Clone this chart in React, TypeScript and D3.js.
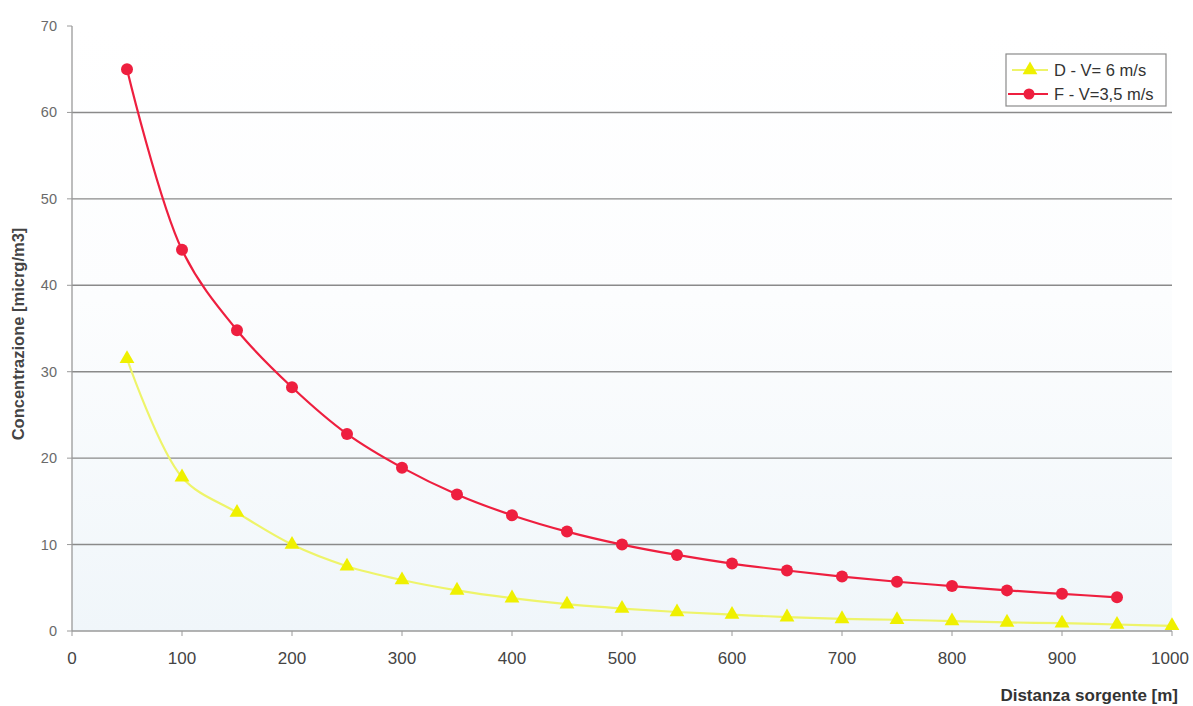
import React from "react";
import * as d3 from "d3";

const distances = [50, 100, 150, 200, 250, 300, 350, 400, 450, 500, 550, 600, 650, 700, 750, 800, 850, 900, 950, 1000];
const seriesD = [31.5, 17.8, 13.7, 10.0, 7.5, 5.9, 4.7, 3.8, 3.1, 2.6, 2.2, 1.9, 1.6, 1.4, 1.3, 1.15, 1.0, 0.9, 0.75, 0.6];
const seriesF = [65, 44.1, 34.8, 28.2, 22.8, 18.9, 15.8, 13.4, 11.5, 10.0, 8.8, 7.8, 7.0, 6.3, 5.7, 5.2, 4.7, 4.3, 3.9];
const xTicks = [0, 100, 200, 300, 400, 500, 600, 700, 800, 900, 1000];
const yTicks = [0, 10, 20, 30, 40, 50, 60, 70];
const legendLabels = ["D - V= 6 m/s", "F - V=3,5 m/s"];
const xTitle = "Distanza sorgente [m]";
const yTitle = "Concentrazione [micrg/m3]";

const W = 1193, H = 706;
const left = 72, right = 1172, top = 26, bottom = 631;
const RED = "#ee1f3f";
const YEL = "#eff000";

export default function App() {
  const x = d3.scaleLinear().domain([0, 1000]).range([left, right]);
  const y = d3.scaleLinear().domain([0, 70]).range([bottom, top]);
  const line = d3.line<[number, number]>().x(d => x(d[0])).y(d => y(d[1])).curve(d3.curveCatmullRom.alpha(0.5));
  const dPts: [number, number][] = seriesD.map((v, i) => [distances[i], v]);
  const fPts: [number, number][] = seriesF.map((v, i) => [distances[i], v]);
  const tri = d3.symbol().type(d3.symbolTriangle).size(95)();
  const font = "Liberation Sans, Arial, sans-serif";
  return (
    <svg width={W} height={H} style={{ position: "absolute", left: 0, top: 0, background: "#fff" }} fontFamily={font}>
      <defs>
        <linearGradient id="bg" x1="0" y1="0" x2="0" y2="1">
          <stop offset="0" stopColor="#ffffff" />
          <stop offset="0.45" stopColor="#fcfdfe" />
          <stop offset="1" stopColor="#f0f6fa" />
        </linearGradient>
      </defs>
      <rect x={left} y={top} width={right - left} height={bottom - top} fill="url(#bg)" />
      {yTicks.filter(t => t > 0 && t < 70).map(t => (
        <line key={t} x1={left} x2={right} y1={y(t)} y2={y(t)} stroke="#8a8a8a" strokeWidth={1.4} />
      ))}
      <line x1={left} x2={left} y1={top} y2={bottom} stroke="#9a9a9a" strokeWidth={1.3} />
      <line x1={left} x2={right} y1={bottom} y2={bottom} stroke="#9a9a9a" strokeWidth={1.3} />
      {yTicks.map(t => (
        <g key={t}>
          <line x1={left - 5} x2={left} y1={y(t)} y2={y(t)} stroke="#9a9a9a" />
          <text x={left - 15} y={y(t) + 5} textAnchor="end" fontSize={14.5} fill="#6a6a6a">{t}</text>
        </g>
      ))}
      {xTicks.map(t => (
        <g key={t}>
          <line x1={x(t)} x2={x(t)} y1={bottom} y2={bottom + 5} stroke="#9a9a9a" />
          <text x={x(t) - (t === 1000 ? 2 : 0)} y={bottom + 33} textAnchor="middle" fontSize={17} fill="#444">{t}</text>
        </g>
      ))}
      <text x={1178} y={701} textAnchor="end" fontSize={17} fontWeight="bold" fill="#333">{xTitle}</text>
      <text transform={`translate(24,${334}) rotate(-90)`} textAnchor="middle" fontSize={16.5} fontWeight="bold" fill="#444">{yTitle}</text>
      <path d={line(dPts) || ""} fill="none" stroke="#eef46a" strokeWidth={2.2} />
      <path d={line(fPts) || ""} fill="none" stroke={RED} strokeWidth={2.2} />
      {dPts.map((p, i) => (
        <path key={i} d={tri || ""} transform={`translate(${x(p[0])},${y(p[1])})`} fill={YEL} />
      ))}
      {fPts.map((p, i) => (
        <circle key={i} cx={x(p[0])} cy={y(p[1])} r={6} fill={RED} />
      ))}
      <g>
        <rect x={1006} y={54} width={160} height={52} fill="#fff" stroke="#8a8a8a" strokeWidth={1.2} />
        <line x1={1012} x2={1048} y1={70} y2={70} stroke="#eef46a" strokeWidth={2.2} />
        <path d={tri || ""} transform="translate(1030,70)" fill={YEL} />
        <text x={1054} y={76} fontSize={16.5} fill="#333">{legendLabels[0]}</text>
        <line x1={1008} x2={1048} y1={94} y2={94} stroke={RED} strokeWidth={2.2} />
        <circle cx={1029} cy={94} r={5.5} fill={RED} />
        <text x={1054} y={100} fontSize={16.5} fill="#333">{legendLabels[1]}</text>
      </g>
    </svg>
  );
}
